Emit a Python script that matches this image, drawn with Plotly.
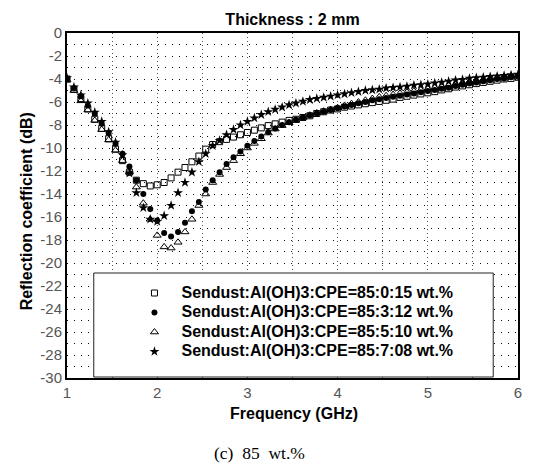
import plotly.graph_objects as go

# ---------------- data ----------------
freq = [1.000, 1.077, 1.154, 1.231, 1.308, 1.385, 1.462, 1.538, 1.615, 1.692,
        1.769, 1.846, 1.923, 2.000, 2.077, 2.154, 2.231, 2.308, 2.385, 2.462,
        2.538, 2.615, 2.692, 2.769, 2.846, 2.923, 3.000, 3.077, 3.154, 3.231,
        3.308, 3.385, 3.462, 3.538, 3.615, 3.692, 3.769, 3.846, 3.923, 4.000,
        4.077, 4.154, 4.231, 4.308, 4.385, 4.462, 4.538, 4.615, 4.692, 4.769,
        4.846, 4.923, 5.000, 5.077, 5.154, 5.231, 5.308, 5.385, 5.462, 5.538,
        5.615, 5.692, 5.769, 5.846, 5.923, 6.000]

rl_85_0_15 = [-4.0, -4.9, -5.7, -6.6, -7.5, -8.3, -9.2, -10.1, -11.1, -12.1, -12.8, -13.1, -13.3, -13.2,
              -13.0, -12.6, -12.1, -11.7, -11.2, -10.7, -10.1, -9.7, -9.45, -9.25, -9.05, -8.85, -8.65,
              -8.45, -8.25, -8.05, -7.9, -7.75, -7.6, -7.5, -7.35, -7.2, -7.0, -6.85, -6.7, -6.6,
              -6.45, -6.35, -6.25, -6.15, -6.05, -5.95, -5.85, -5.75, -5.6, -5.5, -5.4, -5.3, -5.2,
              -5.1, -4.95, -4.85, -4.7, -4.6, -4.5, -4.4, -4.3, -4.2, -4.1, -4.0, -3.95, -3.85]

rl_85_3_12 = [-4.0, -4.8, -5.5, -6.3, -7.0, -7.9, -8.7, -9.6, -10.5, -11.6, -12.8, -14.0, -15.3, -16.3,
              -17.4, -17.7, -17.3, -16.5, -15.5, -14.7, -13.6, -12.8, -12.1, -11.4, -10.8, -10.3, -9.8,
              -9.4, -9.0, -8.6, -8.3, -8.0, -7.75, -7.55, -7.35, -7.15, -7.0, -6.85, -6.7, -6.55,
              -6.4, -6.25, -6.1, -6.0, -5.85, -5.75, -5.65, -5.55, -5.45, -5.35, -5.25, -5.15, -5.05,
              -4.95, -4.85, -4.75, -4.6, -4.5, -4.4, -4.3, -4.2, -4.1, -4.0, -3.95, -3.85, -3.8]

rl_85_5_10 = [-4.1, -5.0, -5.9, -6.7, -7.6, -8.4, -9.3, -10.2, -11.1, -12.1, -13.4, -14.8, -16.2, -17.6,
              -18.6, -18.7, -18.2, -17.3, -16.2, -15.0, -14.0, -13.0, -12.3, -11.7, -11.1, -10.5, -10.0,
              -9.6, -9.2, -8.7, -8.35, -8.05, -7.8, -7.6, -7.35, -7.15, -6.95, -6.8, -6.65, -6.5,
              -6.3, -6.15, -6.0, -5.85, -5.7, -5.55, -5.45, -5.35, -5.25, -5.15, -5.05, -4.95, -4.85,
              -4.75, -4.65, -4.55, -4.45, -4.35, -4.25, -4.15, -4.05, -3.95, -3.9, -3.8, -3.75, -3.7]

rl_85_7_08 = [-3.9, -4.7, -5.4, -6.1, -6.9, -7.7, -8.6, -9.5, -10.6, -12.2, -13.9, -15.2, -16.2, -16.4,
              -15.9, -15.0, -13.9, -13.0, -12.1, -11.2, -10.5, -9.8, -9.35, -8.85, -8.4, -8.0, -7.7,
              -7.4, -7.1, -6.85, -6.65, -6.45, -6.25, -6.1, -5.95, -5.8, -5.7, -5.6, -5.5, -5.4,
              -5.3, -5.2, -5.1, -5.0, -4.95, -4.9, -4.8, -4.75, -4.7, -4.65, -4.55, -4.5, -4.45,
              -4.35, -4.3, -4.2, -4.1, -4.05, -3.95, -3.9, -3.85, -3.8, -3.75, -3.7, -3.65, -3.6]

series_names = ["Sendust:Al(OH)3:CPE=85:0:15 wt.%",
                "Sendust:Al(OH)3:CPE=85:3:12 wt.%",
                "Sendust:Al(OH)3:CPE=85:5:10 wt.%",
                "Sendust:Al(OH)3:CPE=85:7:08 wt.%"]

x_tick_vals = [1, 2, 3, 4, 5, 6]
y_tick_vals = [0, -2, -4, -6, -8, -10, -12, -14, -16, -18, -20, -22, -24, -26, -28, -30]
y_tick_text = ["0", "-2", "-4", "-6", "-8", "-10", "-12", "-14", "-16", "-18",
               "-20", "-22", "-24", "-26", "-28", "-30"]

title_text = "Thickness : 2 mm"
x_title = "Frequency (GHz)"
y_title = "Reflection coefficient (dB)"
caption = "(c)\u00a0\u00a085\u00a0\u00a0wt.%"

# ---------------- figure ----------------
W, H = 533, 471
L, R, T, B = 67, 11, 33, 93
PW, PH = W - L - R, H - T - B

def px_x(px):
    return (px - L) / PW

def px_y(py):
    return (H - B - py) / PH

styles = [
    dict(symbol="square-open", size=6, color="black", line=dict(width=1, color="black")),
    dict(symbol="circle", size=6, color="black", line=dict(width=0)),
    dict(symbol="triangle-up-open", size=7, color="black", line=dict(width=1, color="black")),
    dict(symbol="star", size=7.5, color="black", line=dict(width=0)),
]
data_series = [rl_85_0_15, rl_85_3_12, rl_85_5_10, rl_85_7_08]

fig = go.Figure()
for name, ys, st in zip(series_names, data_series, styles):
    fig.add_trace(go.Scatter(
        x=freq, y=ys, mode="markers", marker=st,
        name="<b><span style='font-size:16px'>" + name + "</span></b>",
    ))

tick_font = dict(family="Liberation Sans Narrow, Liberation Sans, Arial", size=15, color="#555555")

fig.update_layout(
    width=W, height=H,
    margin=dict(l=L, r=R, t=T, b=B, pad=0),
    paper_bgcolor="white", plot_bgcolor="white",
    font=dict(family="Liberation Sans, Arial", color="black"),
    title=dict(text="<b>" + title_text + "</b>", x=0.5, xref="paper", xanchor="center",
               y=1 - 19 / H, yref="container", yanchor="middle",
               font=dict(family="Liberation Sans, Arial", size=16, color="black")),
    xaxis=dict(range=[1, 6], tickmode="array", tickvals=x_tick_vals,
               ticks="", tickfont=tick_font,
               showline=True, mirror=True, linecolor="black", linewidth=2,
               showgrid=True, gridcolor="#555555", gridwidth=1, griddash="1px,3px",
               minor=dict(dtick=0.5, tick0=1, showgrid=True, gridcolor="#555555",
                          gridwidth=1, griddash="1px,3px", ticks=""),
               zeroline=False, fixedrange=True),
    yaxis=dict(range=[-30, 0], tickmode="array", tickvals=y_tick_vals, ticktext=y_tick_text,
               ticks="", tickfont=tick_font,
               showline=True, mirror=True, linecolor="black", linewidth=2,
               showgrid=True, gridcolor="#111111", gridwidth=1, griddash="1px,6px",
               minor=dict(dtick=1, tick0=0, showgrid=True, gridcolor="#111111",
                          gridwidth=1, griddash="1px,6px", ticks=""),
               zeroline=False, fixedrange=True),
    showlegend=True,
    legend=dict(x=px_x(128), xanchor="left", y=px_y(278.25), yanchor="top",
                bgcolor="rgba(0,0,0,0)", borderwidth=0, itemwidth=44,
                tracegroupgap=0,
                font=dict(family="Liberation Sans, Arial", size=12.7, color="black")),
    shapes=[dict(type="rect", xref="paper", yref="paper",
                 x0=px_x(94), x1=px_x(497), y0=px_y(377), y1=px_y(273),
                 fillcolor="white", line=dict(color="#222222", width=1), layer="above")],
    annotations=[
        dict(text="<b>" + x_title + "</b>", xref="paper", yref="paper",
             x=px_x(296), y=px_y(413), xanchor="center", yanchor="middle", showarrow=False,
             font=dict(family="Liberation Sans, Arial", size=16, color="black")),
        dict(text="<b>" + y_title + "</b>", xref="paper", yref="paper", textangle=-90,
             x=px_x(26), y=px_y(211), xanchor="center", yanchor="middle", showarrow=False,
             font=dict(family="Liberation Sans, Arial", size=16, color="black")),
        dict(text=caption, xref="paper", yref="paper",
             x=px_x(261), y=px_y(453), xanchor="center", yanchor="middle", showarrow=False,
             font=dict(family="Liberation Serif, Times New Roman", size=17.5, color="black")),
    ],
)

fig.write_html("out.html")
